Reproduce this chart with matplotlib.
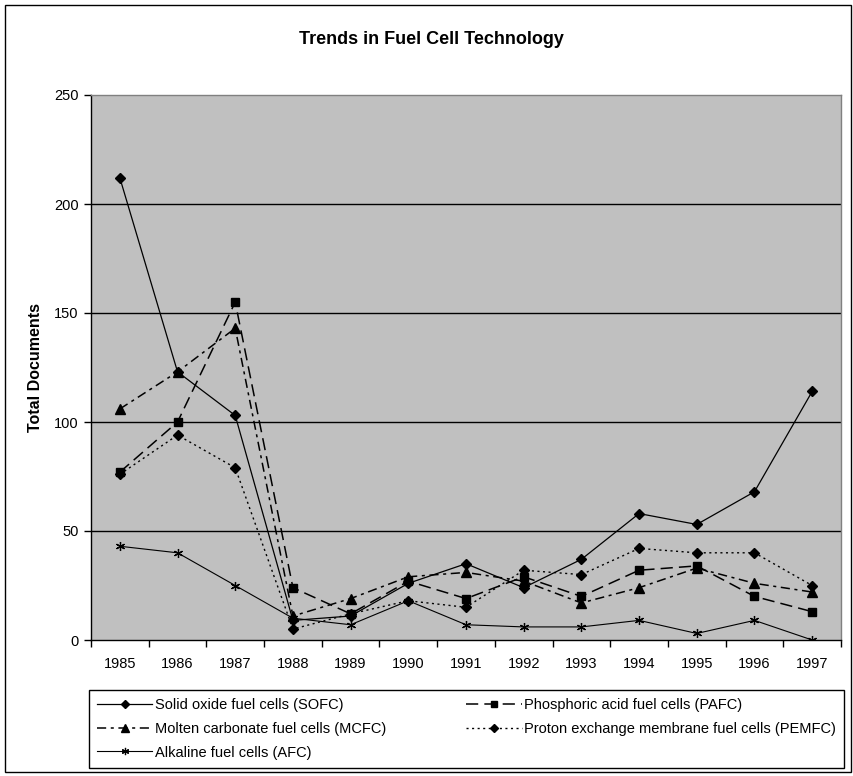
import matplotlib.pyplot as plt
from matplotlib.patches import Rectangle

years = ["1985", "1986", "1987", "1988", "1989", "1990", "1991",
         "1992", "1993", "1994", "1995", "1996", "1997"]

sofc = [212, 123, 103, 9, 11, 26, 35, 24, 37, 58, 53, 68, 114]
pafc = [77, 100, 155, 24, 12, 27, 19, 29, 20, 32, 34, 20, 13]
mcfc = [106, 123, 143, 11, 19, 29, 31, 27, 17, 24, 33, 26, 22]
pemfc = [76, 94, 79, 5, 12, 18, 15, 32, 30, 42, 40, 40, 25]
afc = [43, 40, 25, 10, 7, 18, 7, 6, 6, 9, 3, 9, 0]

y_ticks = [0, 50, 100, 150, 200, 250]

plt.rcParams["font.family"] = ["Liberation Sans", "DejaVu Sans"]

fig = plt.figure(figsize=(8.54, 7.76), dpi=100)
fig.patches.append(Rectangle((5 / 854, 4 / 776), 846 / 854, 767 / 776,
                             transform=fig.transFigure, fill=False,
                             edgecolor="black", linewidth=1.0))

ax = fig.add_axes([91 / 854, 136 / 776, 750 / 854, 545 / 776])
ax.set_facecolor("#c0c0c0")

x = list(range(len(years)))

# horizontal gridlines
ax.hlines(y_ticks[1:-1], -0.5, len(years) - 0.5, colors="black", linewidth=1.0, zorder=1)

l_sofc, = ax.plot(x, sofc, color="black", linestyle="-", linewidth=0.9,
                  marker="D", markersize=5.5, zorder=3)
l_pafc, = ax.plot(x, pafc, color="black", linestyle=(0, (8, 4)), linewidth=1.1,
                  marker="s", markersize=6, zorder=3)
l_mcfc, = ax.plot(x, mcfc, color="black", linestyle=(0, (6, 3, 2, 3)), linewidth=1.1,
                  marker="^", markersize=6.5, zorder=3)
l_pemfc, = ax.plot(x, pemfc, color="black", linestyle=(0, (1.5, 2.5)), linewidth=1.0,
                   marker="D", markersize=5, zorder=3)
l_afc, = ax.plot(x, afc, color="black", linestyle="-", linewidth=0.8,
                 marker=(6, 2, 0), markersize=6.5, markeredgewidth=0.9, zorder=3)

ax.set_xlim(-0.5, len(years) - 0.5)
ax.set_ylim(y_ticks[0], y_ticks[-1])

# ticks between categories, labels at category centres
ax.set_xticks([i - 0.5 for i in range(len(years) + 1)])
ax.set_xticklabels([])
ax.set_xticks(x, minor=True)
ax.set_xticklabels(years, minor=True)
ax.tick_params(axis="x", which="major", direction="out", length=5, width=1, color="black")
ax.tick_params(axis="x", which="minor", length=0, pad=12, labelsize=10.5)

ax.set_yticks(y_ticks)
ax.tick_params(axis="y", direction="out", length=5, width=1, labelsize=10.5, pad=4)

for side in ("left", "bottom"):
    ax.spines[side].set_color("black")
    ax.spines[side].set_linewidth(1.0)
for side in ("top", "right"):
    ax.spines[side].set_color("#808080")
    ax.spines[side].set_linewidth(1.0)

ax.set_ylabel("Total Documents", fontsize=11.5, fontweight="bold", labelpad=8)
fig.text(431 / 854, 1 - 40 / 776, "Trends in Fuel Cell Technology", ha="center", va="center",
         fontsize=13, fontweight="bold")

handles = [l_sofc, l_mcfc, l_afc, l_pafc, l_pemfc]
labels = ["Solid oxide fuel cells (SOFC)",
          "Molten carbonate fuel cells (MCFC)",
          "Alkaline fuel cells (AFC)",
          "Phosphoric acid fuel cells (PAFC)",
          "Proton exchange membrane fuel cells (PEMFC)"]
leg = fig.legend(handles, labels, ncol=2, loc="upper left",
                 bbox_to_anchor=(89 / 854, 1 - 690 / 776),
                 borderaxespad=0.0,
                 frameon=True, fancybox=False, edgecolor="black",
                 facecolor="white", framealpha=1, fontsize=10.5,
                 handlelength=3.8, handletextpad=0.15, columnspacing=5.5,
                 labelspacing=0.67, borderpad=0.55, markerscale=0.8)
leg.get_frame().set_linewidth(1.0)

fig.savefig("out.png", dpi=100)
